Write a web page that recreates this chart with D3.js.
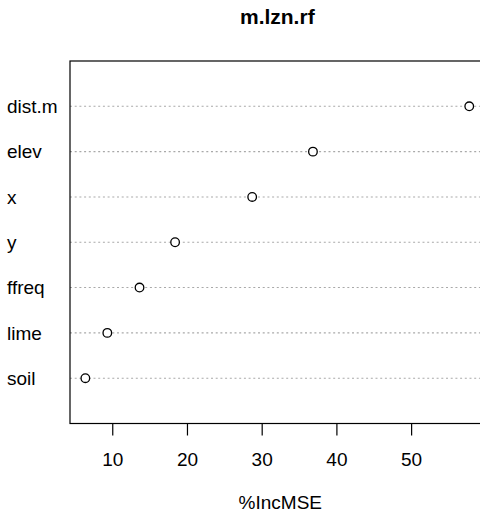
<!DOCTYPE html>
<html>
<head>
<meta charset="utf-8">
<script src="https://cdn.jsdelivr.net/npm/d3@7"></script>
<style>
  html, body { margin: 0; padding: 0; background: #fff; }
  svg { display: block; font-family: "Liberation Sans", Arial, Helvetica, sans-serif; }
</style>
</head>
<body>
<svg id="chart" width="480" height="513"></svg>
<script>
// Variable importance (%IncMSE) for the random forest model m.lzn.rf
const variables = ["soil", "lime", "ffreq", "y", "x", "elev", "dist.m"];
const incMSE    = [6.40, 9.34, 13.65, 18.41, 28.73, 36.86, 57.78];
const xTicks    = [10, 20, 30, 40, 50];
const chartTitle = "m.lzn.rf";
const xLabel = "%IncMSE";

const svg = d3.select("#chart");
const plot = { left: 70, top: 61, bottom: 423.5 };
const pxPerUnit = 7.4716;

// x range padded by 4% on each side, as in a base-graphics dot chart
const [lo, hi] = d3.extent(incMSE);
const pad = (hi - lo) * 0.04;
const xDomain = [lo - pad, hi + pad];
const x = d3.scaleLinear()
  .domain(xDomain)
  .range([plot.left, plot.left + (xDomain[1] - xDomain[0]) * pxPerUnit]);
const plotRight = x.range()[1];

// rows 1..n, with one empty slot above and below
const y = d3.scaleLinear().domain([0, variables.length + 1]).range([plot.bottom, plot.top]);

// guide lines for each variable
svg.append("g")
  .selectAll("line")
  .data(variables)
  .join("line")
  .attr("x1", plot.left)
  .attr("x2", plotRight)
  .attr("y1", (d, i) => y(i + 1))
  .attr("y2", (d, i) => y(i + 1))
  .attr("stroke", "#a9a9a9")
  .attr("stroke-width", 1.1)
  .attr("stroke-dasharray", "2,2.7");

// open circles
svg.append("g")
  .selectAll("circle")
  .data(incMSE)
  .join("circle")
  .attr("cx", d => x(d))
  .attr("cy", (d, i) => y(i + 1))
  .attr("r", 4.3)
  .attr("fill", "#fff")
  .attr("stroke", "#000")
  .attr("stroke-width", 1.3);

// plot frame
svg.append("rect")
  .attr("x", plot.left)
  .attr("y", plot.top)
  .attr("width", plotRight - plot.left)
  .attr("height", plot.bottom - plot.top)
  .attr("fill", "none")
  .attr("stroke", "#000")
  .attr("stroke-width", 1.2);

// bottom axis
const xAxis = d3.axisBottom(x)
  .tickValues(xTicks)
  .tickSize(12)
  .tickPadding(17)
  .tickFormat(d3.format("d"));
const gx = svg.append("g")
  .attr("transform", `translate(0,${plot.bottom})`)
  .call(xAxis);
gx.select(".domain").remove();
gx.selectAll(".tick line").attr("stroke", "#000").attr("stroke-width", 1.2);
gx.selectAll(".tick text")
  .attr("fill", "#000")
  .style("font-size", "19px")
  .style("font-family", "'Liberation Sans', Arial, sans-serif");

// variable names, left aligned in the margin
svg.append("g")
  .selectAll("text")
  .data(variables)
  .join("text")
  .attr("x", 7)
  .attr("y", (d, i) => y(i + 1))
  .attr("dy", "0.36em")
  .attr("font-size", 19)
  .attr("fill", "#000")
  .text(d => d);

// title and axis label, centred over the plot region
const cx = (plot.left + plotRight) / 2;
svg.append("text")
  .attr("x", cx)
  .attr("y", 24)
  .attr("text-anchor", "middle")
  .attr("font-size", 21)
  .attr("font-weight", "bold")
  .attr("fill", "#000")
  .text(chartTitle);

svg.append("text")
  .attr("x", cx + 3)
  .attr("y", 509)
  .attr("text-anchor", "middle")
  .attr("font-size", 19)
  .attr("fill", "#000")
  .text(xLabel);
</script>
</body>
</html>
